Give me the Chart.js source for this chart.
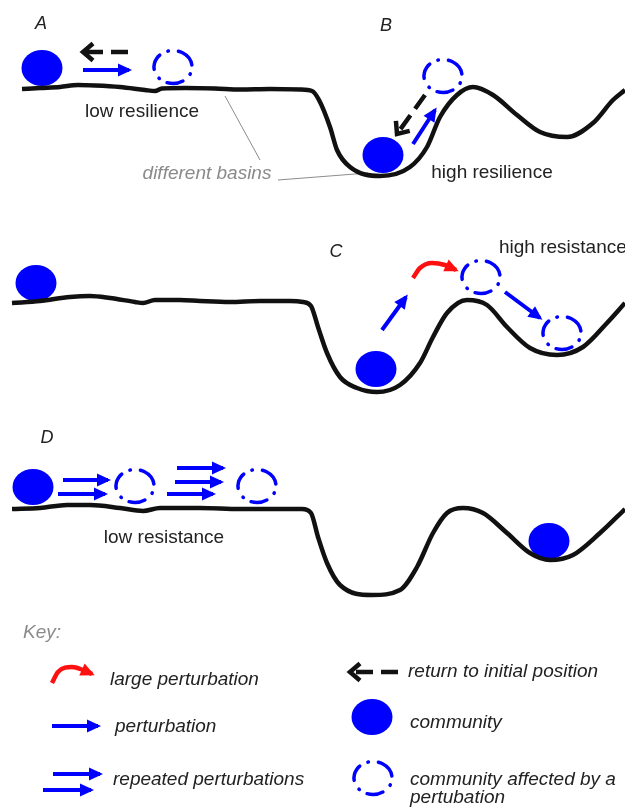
<!DOCTYPE html>
<html>
<head>
<meta charset="utf-8">
<script src="https://cdn.jsdelivr.net/npm/chart.js@4/dist/chart.umd.min.js"></script>
<style>
  html,body{margin:0;padding:0;background:#fff}
  #wrap{width:625px;height:808px;position:relative}
</style>
</head>
<body>
<div id="wrap"><canvas id="diagram"></canvas></div>
<script>
// landscape profiles (x, y in picture units, y grows downward)
const ridgeAB = [[22,89],[40,88],[60,87],[78,85],[95,85.5],[120,87],[145,90],[155,91],[162,88.5],[185,88],[215,88.5],[240,89.5],[270,89],[300,89.5],[312,91],[319,100],[330,127],[337,150],[350,167],[380,176],[410,167],[427,147],[440,117],[457,95],[473,87],[493,95],[517,115],[540,132],[567,137],[593,123],[613,100],[625,90]];
const ridgeC = [[12,303],[40,301],[70,297],[90,296],[110,298],[135,302],[143,303],[155,300],[180,300],[200,301],[230,302],[260,301],[290,301],[303,302],[311,306],[318,327],[327,353],[340,377],[357,388],[377,392],[400,385],[420,363],[433,337],[447,313],[467,300],[487,305],[507,327],[530,348],[557,355],[583,347],[607,323],[625,303]];
const ridgeD = [[12,509],[40,508],[67,505],[90,505],[120,508],[143,511],[160,508],[200,508],[240,509],[280,509],[302,509],[311,513],[318,537],[327,563],[340,585],[372,595],[400,590],[417,567],[433,533],[447,513],[463,508],[483,513],[507,533],[530,553],[550,560],[573,555],[600,533],[625,509]];

// communities (filled) and perturbed communities (dashed)
const communities = [[42,68],[383,155],[36,283],[376,369],[33,487],[549,541],[372,717]];
const perturbed = [[173,67],[443,76],[481,277],[562,333],[135,486],[257,486],[373,778]];

// arrows: tail -> tip
const perturbArrows = [
  [[83,70],[129,70]],
  [[413,144],[435,110]],
  [[382,330],[406,297]],
  [[505,292],[540,318]],
  [[63,480],[108,480]],[[58,494],[105,494]],
  [[177,468],[223,468]],[[175,482],[221,482]],[[167,494],[213,494]],
  [[52,726],[98,726]],
  [[53,774],[100,774]],[[43,790],[91,790]]
];
const returnArrows = [
  [[128,52],[83,52]],
  [[425,95],[397,134]],
  [[398,672],[350,672]]
];
const largeArrows = [
  [[413,278],[420,268],[432,263],[445,265],[456,270]],
  [[52,683],[58,672],[72,667],[83,670],[92,674]]
];
const basinLeaders = [
  [[225,96],[260,160]],
  [[278,180],[368,173]]
];

// text notes
const notes = [
  {t:'A', x:41, y:24, kind:'letter'},
  {t:'B', x:386, y:26, kind:'letter'},
  {t:'C', x:336, y:252, kind:'letter'},
  {t:'D', x:47, y:438, kind:'letter'},
  {t:'low resilience', x:142, y:112, kind:'plain', align:'center'},
  {t:'different basins', x:207, y:174, kind:'grey', align:'center'},
  {t:'high resilience', x:492, y:173, kind:'plain', align:'center'},
  {t:'high resistance', x:499, y:248, kind:'plain', align:'left'},
  {t:'low resistance', x:164, y:538, kind:'plain', align:'center'},
  {t:'Key:', x:23, y:633, kind:'grey', align:'left'},
  {t:'large perturbation', x:110, y:680, kind:'key'},
  {t:'perturbation', x:115, y:727, kind:'key'},
  {t:'repeated perturbations', x:113, y:780, kind:'key'},
  {t:'return to initial position', x:408, y:672, kind:'key'},
  {t:'community', x:410, y:723, kind:'key'},
  {t:'community affected by a', x:410, y:780, kind:'key'},
  {t:'pertubation', x:410, y:798, kind:'key'}
];

const BLUE = '#0000ff', RED = '#ff1010', INK = '#111';
const pts = a => a.map(([x,y]) => ({x, y}));

function ellipseImg(filled) {
  const c = document.createElement('canvas');
  c.width = 46; c.height = 42;
  const g = c.getContext('2d');
  g.beginPath();
  if (filled) {
    g.ellipse(23, 21, 20.5, 18, 0, 0, Math.PI * 2);
    g.fillStyle = BLUE; g.fill();
  } else {
    // start at one o'clock so the dash/dot pattern sits like the original
    g.ellipse(23, 21, 19, 16.5, 0, -Math.PI / 3, -Math.PI / 3 + Math.PI * 2);
    g.strokeStyle = BLUE; g.lineWidth = 3.5; g.lineCap = 'round';
    g.setLineDash([16, 9, 0.5, 10]); g.stroke();
  }
  return c;
}

const lineBase = {showLine:true, pointRadius:0, fill:false, cubicInterpolationMode:'monotone'};
const datasets = [];
[ridgeAB, ridgeC, ridgeD].forEach(r => datasets.push({...lineBase, data:pts(r), borderColor:INK, borderWidth:4.5}));
basinLeaders.forEach(l => datasets.push({...lineBase, data:pts(l), borderColor:'#8c8c8c', borderWidth:1}));
perturbArrows.forEach(a => datasets.push({...lineBase, data:pts(a), borderColor:BLUE, borderWidth:4, head:'solid'}));
returnArrows.forEach(a => datasets.push({...lineBase, data:pts(a), borderColor:INK, borderWidth:4.5, borderDash:[17,8], head:'open'}));
largeArrows.forEach(a => datasets.push({...lineBase, data:pts(a), borderColor:RED, borderWidth:4.5, head:'solid'}));
datasets.push({data:pts(communities), pointStyle:ellipseImg(true), pointRadius:20, showLine:false});
datasets.push({data:pts(perturbed), pointStyle:ellipseImg(false), pointRadius:20, showLine:false});

const extras = {
  id: 'extras',
  afterDatasetsDraw(chart) {
    const ctx = chart.ctx;
    chart.data.datasets.forEach((ds, i) => {
      if (!ds.head) return;
      const el = chart.getDatasetMeta(i).data;
      const a = el[el.length - 2], b = el[el.length - 1];
      const len = Math.hypot(b.x - a.x, b.y - a.y);
      const ux = (b.x - a.x) / len, uy = (b.y - a.y) / len, px = -uy, py = ux;
      ctx.save();
      if (ds.head === 'open') {
        ctx.strokeStyle = ds.borderColor; ctx.lineWidth = 4.5;
        ctx.lineJoin = 'miter'; ctx.lineCap = 'butt';
        ctx.beginPath();
        ctx.moveTo(b.x - 10 * ux + 8.5 * px, b.y - 10 * uy + 8.5 * py);
        ctx.lineTo(b.x, b.y);
        ctx.lineTo(b.x - 10 * ux - 8.5 * px, b.y - 10 * uy - 8.5 * py);
        ctx.stroke();
      } else {
        const tx = b.x + 3 * ux, ty = b.y + 3 * uy;
        ctx.fillStyle = ds.borderColor;
        ctx.beginPath();
        ctx.moveTo(tx, ty);
        ctx.lineTo(tx - 14 * ux + 6.5 * px, ty - 14 * uy + 6.5 * py);
        ctx.lineTo(tx - 14 * ux - 6.5 * px, ty - 14 * uy - 6.5 * py);
        ctx.closePath(); ctx.fill();
      }
      ctx.restore();
    });
    const xs = chart.scales.x, ys = chart.scales.y;
    ctx.save();
    ctx.textBaseline = 'middle';
    notes.forEach(n => {
      let font = '19px "Liberation Sans", Arial, sans-serif', color = '#222';
      if (n.kind === 'letter') font = 'italic 18px "Liberation Sans", Arial, sans-serif';
      if (n.kind === 'grey') { font = 'italic 19px "Liberation Sans", Arial, sans-serif'; color = '#8a8a8a'; }
      if (n.kind === 'key') font = 'italic 19px "Liberation Sans", Arial, sans-serif';
      ctx.font = font; ctx.fillStyle = color;
      ctx.textAlign = n.align || (n.kind === 'letter' ? 'center' : 'left');
      ctx.fillText(n.t, xs.getPixelForValue(n.x), ys.getPixelForValue(n.y));
    });
    ctx.restore();
  }
};

new Chart(document.getElementById('diagram'), {
  type: 'scatter',
  data: {datasets},
  options: {
    responsive: true,
    maintainAspectRatio: false,
    animation: false,
    events: [],
    layout: {padding: 0, autoPadding: false},
    plugins: {legend: {display: false}, tooltip: {enabled: false}},
    scales: {
      x: {type: 'linear', min: 0, max: 625, display: false},
      y: {type: 'linear', min: 0, max: 808, reverse: true, display: false}
    }
  },
  plugins: [extras]
});
</script>
</body>
</html>
